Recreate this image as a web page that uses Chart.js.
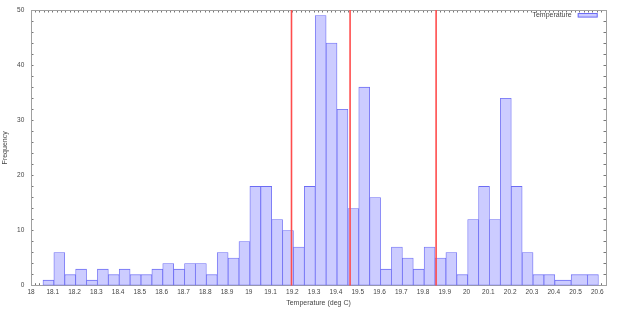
<!DOCTYPE html>
<html>
<head>
<meta charset="utf-8">
<script src="https://cdn.jsdelivr.net/npm/chart.js@4.4.1/dist/chart.umd.min.js"></script>
<style>
  html, body { margin: 0; padding: 0; background: #fff; }
</style>
</head>
<body>
<canvas id="chart" width="619" height="309"></canvas>
<script>
// histogram bins (deg C) and how many readings fell in each; 20.48 is empty
const binCenters = [
  18.08, 18.13, 18.18, 18.23, 18.28, 18.33, 18.38, 18.43, 18.48, 18.53,
  18.58, 18.63, 18.68, 18.73, 18.78, 18.83, 18.88, 18.93, 18.98, 19.03,
  19.08, 19.13, 19.18, 19.23, 19.28, 19.33, 19.38, 19.43, 19.48, 19.53,
  19.58, 19.63, 19.68, 19.73, 19.78, 19.83, 19.88, 19.93, 19.98, 20.03,
  20.08, 20.13, 20.18, 20.23, 20.28, 20.33, 20.38, 20.43, 20.53, 20.58
];
const counts = [
  1, 6, 2, 3, 1, 3, 2, 3, 2, 2,
  3, 4, 3, 4, 4, 2, 6, 5, 8, 18,
  18, 12, 10, 7, 18, 49, 44, 32, 14, 36,
  16, 3, 7, 5, 3, 7, 5, 6, 2, 12,
  18, 12, 34, 18, 6, 2, 2, 1, 2, 2
];
// red marker lines
const markerTemps = [19.196, 19.465, 19.86];

const xMin = 18, xMax = 20.64;
const yMin = 0, yMax = 50;

const BAR_FILL = '#ccccff';
const BAR_EDGE = '#6c6cf4';
const AXIS_GREY = '#a0a0a0';
const TEXT = '#444';
const FONT = '"Liberation Sans", Arial, sans-serif';

// 'flex' thickness makes every box reach halfway to its neighbours,
// so the boxes either side of the empty bin widen like gnuplot's do
const datasets = [
  {
    type: 'bar',
    label: 'Temperature',
    data: binCenters.map((x, i) => ({ x, y: counts[i] })),
    backgroundColor: BAR_FILL,
    borderColor: BAR_EDGE,
    borderWidth: 0.8,
    borderSkipped: false,
    barThickness: 'flex',
    barPercentage: 1,
    categoryPercentage: 1,
    order: 1
  },
  ...markerTemps.map(t => ({
    type: 'line',
    label: 'marker',
    data: [{ x: t, y: yMin }, { x: t, y: yMax }],
    borderColor: '#ff4d4d',
    borderWidth: 1.6,
    pointRadius: 0,
    order: 0
  }))
];

const isMultiple = (v, step) => Math.abs(v / step - Math.round(v / step)) < 1e-6;

const tickGrid = {
  display: true,
  drawOnChartArea: false,
  drawTicks: true,
  tickLength: -2.5,
  tickColor: '#777',
  offset: false
};

// pin the plot box where the reference has it
const fixSize = (w, h) => s => {
  if (w !== null) s.width = w;
  if (h !== null) s.height = h;
  s.paddingTop = s.paddingBottom = s.paddingLeft = s.paddingRight = 0;
};

// legend sits inside the plot, top right, text left of the swatch
const insideLegend = {
  id: 'insideLegend',
  afterDraw(chart) {
    const { ctx, chartArea } = chart;
    const ds = chart.data.datasets[0];
    const y = chartArea.top + 5.3;
    const boxRight = chartArea.right - 8.3;
    const boxW = 20;
    ctx.save();
    ctx.font = '7px ' + FONT;
    ctx.fillStyle = TEXT;
    ctx.textAlign = 'right';
    ctx.textBaseline = 'middle';
    ctx.fillText(ds.label, boxRight - boxW - 6, y);
    ctx.fillStyle = ds.backgroundColor;
    ctx.fillRect(boxRight - boxW, y - 1.8, boxW, 3.6);
    ctx.strokeStyle = ds.borderColor;
    ctx.lineWidth = 1;
    ctx.strokeRect(boxRight - boxW + 0.5, y - 1.8, boxW - 1, 3.6);
    ctx.restore();
  }
};

new Chart(document.getElementById('chart').getContext('2d'), {
  type: 'bar',
  data: { datasets },
  plugins: [insideLegend],
  options: {
    responsive: false,
    animation: false,
    layout: { padding: 0, autoPadding: false },
    plugins: {
      legend: { display: false },
      tooltip: { enabled: false }
    },
    scales: {
      x: {
        type: 'linear',
        position: 'bottom',
        min: xMin,
        max: xMax,
        offset: false,
        z: 1,
        grid: tickGrid,
        border: { color: AXIS_GREY, width: 1 },
        ticks: {
          stepSize: 0.02,
          autoSkip: false,
          maxRotation: 0,
          padding: 5.6,
          color: TEXT,
          font: { size: 6.5, family: FONT },
          callback: v => isMultiple(v, 0.1) ? String(Math.round(v * 10) / 10) : ''
        },
        title: {
          display: true,
          text: 'Temperature (deg C)',
          color: TEXT,
          font: { size: 7, family: FONT },
          padding: { top: 0, bottom: 1.3 }
        },
        afterFit: fixSize(null, 23.3)
      },
      xTop: {
        type: 'linear',
        position: 'top',
        min: xMin,
        max: xMax,
        offset: false,
        z: 1,
        grid: tickGrid,
        border: { color: AXIS_GREY, width: 1 },
        ticks: { stepSize: 0.02, autoSkip: false, display: false },
        afterFit: fixSize(null, 10)
      },
      y: {
        type: 'linear',
        position: 'left',
        min: yMin,
        max: yMax,
        z: 1,
        grid: tickGrid,
        border: { color: AXIS_GREY, width: 1 },
        ticks: {
          stepSize: 2,
          autoSkip: false,
          padding: 9.2,
          color: TEXT,
          font: { size: 6.5, family: FONT },
          callback: v => isMultiple(v, 10) ? String(v) : ''
        },
        title: {
          display: true,
          text: 'Frequency',
          color: TEXT,
          font: { size: 7, family: FONT },
          padding: { top: 0.8, bottom: 0 }
        },
        afterFit: fixSize(31, null)
      },
      yRight: {
        type: 'linear',
        position: 'right',
        min: yMin,
        max: yMax,
        z: 1,
        grid: tickGrid,
        border: { color: AXIS_GREY, width: 1 },
        ticks: { stepSize: 2, autoSkip: false, display: false },
        afterFit: fixSize(13, null)
      }
    }
  }
});
</script>
</body>
</html>
